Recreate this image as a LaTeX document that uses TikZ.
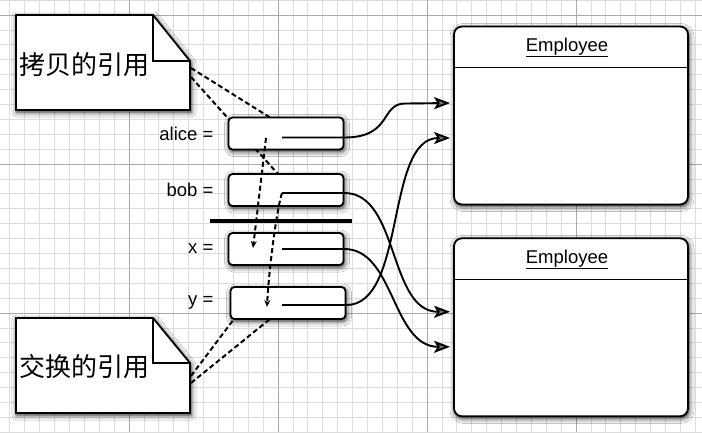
\documentclass[tikz,border=0pt]{standalone}
\usepackage{fontspec}
\setsansfont{Liberation Sans}
\newfontfamily\cjkfont{Noto Sans CJK SC}
\usepackage{tikz}
\usetikzlibrary{positioning,calc,arrows.meta,shadows.blur}
\definecolor{gridminor}{RGB}{220,220,220}
\definecolor{gridmajor}{RGB}{170,170,170}

\begin{document}
\begin{tikzpicture}[x=1pt,y=-1pt,
    boxshadow/.style={blur shadow={shadow xshift=1pt,shadow yshift=-2pt,shadow blur radius=5pt,shadow opacity=90}},
    refbox/.style={draw, line width=1.8pt, fill=white, rounded corners=4pt,
      minimum width=115pt, minimum height=32pt, boxshadow},
    empbox/.style={draw, line width=1.8pt, fill=white, rounded corners=8pt,
      minimum width=234pt, minimum height=178pt, boxshadow},
    note/.style={draw, line width=1.8pt, fill=white, boxshadow},
    lbl/.style={inner sep=0pt, font=\sffamily\fontsize{18.5}{20}\selectfont},
    notetext/.style={inner sep=0pt, anchor=west, font=\cjkfont\fontsize{26}{28}\selectfont},
    refline/.style={line width=2pt, dash pattern=on 5pt off 3pt},
    swapline/.style={refline, -{Stealth[length=7pt,width=6pt]}},
    ptr/.style={line width=1.9pt, -{Stealth[length=16pt,width=12pt,inset=3.5pt]}}]
  \useasboundingbox (0,0) rectangle (702,432);
  \fill[white] (0,0) rectangle (702,432);
  % grid
  \foreach \i in {-8,...,39}
    \draw[gridminor, line width=0.7pt] ({129+\i*14.9},0) -- ({129+\i*14.9},432);
  \foreach \j in {-1,...,28}
    \draw[gridminor, line width=0.7pt] (0,{15+\j*14.9}) -- (702,{15+\j*14.9});
  \foreach \i in {-1,...,4}
    \draw[gridmajor, line width=0.9pt] ({129+\i*149},0) -- ({129+\i*149},432);
  \foreach \j in {0,...,2}
    \draw[gridmajor, line width=0.9pt] (0,{15+\j*149}) -- (702,{15+\j*149});

  % notes
  \path[note] (16,15) -- (153,15) -- (190,61) -- (190,110) -- (16,110) -- cycle;
  \draw[line width=1.8pt] (153,15) -- (153,61) -- (190,61);
  \node[notetext] (copytext) at (19,65) {拷贝的引用};
  \coordinate (copyA) at (191,68);
  \coordinate (copyB) at (191,77);
  \path[note] (16,318) -- (153,318) -- (190,363) -- (190,413) -- (16,413) -- cycle;
  \draw[line width=1.8pt] (153,318) -- (153,363) -- (190,363);
  \node[notetext] (swaptext) at (19,367) {交换的引用};
  \coordinate (swapA) at (191,376);
  \coordinate (swapB) at (191,383);

  % reference boxes
  \coordinate (alicepos) at (286,133.5);
  \coordinate (bobpos) at (286,190);
  \coordinate (xpos) at (286,249);
  \coordinate (ypos) at (288,303);
  \draw[refline] (copyA) -- ($(alicepos)+(-16,-16)$);
  \draw[refline] (copyB) -- ($(bobpos)+(-8,-16)$);
  \draw[refline] (swapA) -- ($(ypos)+(-54,16)$);
  \draw[refline] (swapB) -- ($(ypos)+(-18,16)$);
  \node[refbox] (alice) at (alicepos) {};
  \node[refbox] (bob) at (bobpos) {};
  \node[refbox] (x) at (xpos) {};
  \node[refbox] (y) at (ypos) {};
  \node[lbl, left=14pt of alice] (alicelbl) {alice =};
  \node[lbl, left=14pt of bob] (boblbl) {bob =};
  \node[lbl, left=14pt of x] (xlbl) {x =};
  \node[lbl, left=16pt of y] (ylbl) {y =};
  \draw[line width=4.5pt] ($(bob.south west)+(-18,14)$) -- ($(bob.south east)+(8,14)$);

  % Employee objects
  \node[empbox] (emp1) at (571,115.5) {};
  \node[empbox, below=32pt of emp1] (emp2) {};
  \draw[line width=1.4pt] ($(emp1.north west)+(0,42)$) -- ($(emp1.north east)+(0,42)$);
  \draw[line width=1.4pt] ($(emp2.north west)+(0,42)$) -- ($(emp2.north east)+(0,42)$);
  \node[lbl] (emp1title) at ($(emp1.north)+(-4,22)$) {\underline{Employee}};
  \node[lbl] (emp2title) at ($(emp2.north)+(-4,22)$) {\underline{Employee}};

  % pointers
  \coordinate (aliceref) at ($(alice.center)+(-4,4)$);
  \coordinate (bobref) at ($(bob.center)+(-4,3)$);
  \coordinate (xref) at ($(x.center)+(-4,0)$);
  \coordinate (yref) at ($(y.center)+(-6,2)$);
  \draw[ptr] (aliceref) -- (aliceref -| alice.east) .. controls +(48,0) and +(-25,0) .. ($(emp1.west)+(-48,-12)$) -- ($(emp1.west)+(-3,-12.5)$);
  \draw[ptr] (yref) -- (yref -| y.east) .. controls +(60,0) and +(-65,0) .. ($(emp1.west)+(-3,22.5)$);
  \draw[ptr] (bobref) -- (bobref -| bob.east) .. controls +(55,0) and +(-62,0) .. ($(emp2.west)+(-3,-15.5)$);
  \draw[ptr] (xref) -- (xref -| x.east) .. controls +(50,0) and +(-58,0) .. ($(emp2.west)+(-3,19.5)$);

  % swapped copies
  \draw[swapline] ($(alice.center)+(-20,4.5)$) -- ($(x.center)+(-33,-1)$);
  \draw[swapline] (bobref) .. controls +(-5,15) and +(2,-40) .. ($(y.center)+(-21,4)$);
\end{tikzpicture}
\end{document}
